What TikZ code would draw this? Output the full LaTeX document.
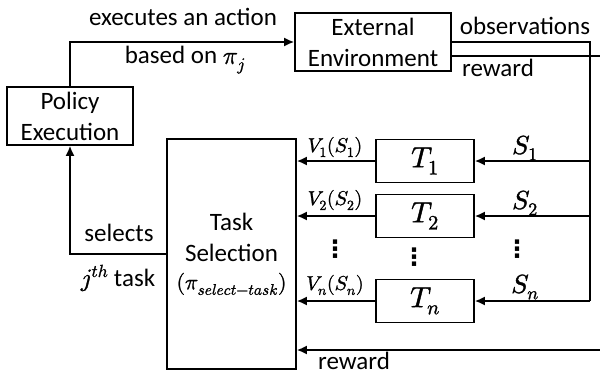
\documentclass[tikz,border=0pt]{standalone}
\usepackage{amsmath}
\usepackage{fontspec}
\usepackage{unicode-math}
\setmainfont{Carlito}
\newfontfamily\dotfont{DejaVu Sans}[BoldFont={DejaVu Sans Bold}]
\setmathfont{Latin Modern Math}[FakeBold=1.3]
\usetikzlibrary{arrows.meta}
\begin{document}
\begin{tikzpicture}[x=1pt,y=-1pt,
  line width=1.7pt,
  every node/.style={font=\fontsize{25}{31}\selectfont, inner sep=0pt},
  blk/.style={draw, line width=1.7pt, align=center},
  arr/.style={-{Latex[length=10pt,width=9pt]}},
  small/.style={font=\fontsize{20}{22}\selectfont},
  tmath/.style={font=\fontsize{29}{31}\selectfont},
  smath/.style={font=\fontsize{26}{31}\selectfont},
  dots/.style={font=\dotfont\bfseries\fontsize{24}{26}\selectfont}
]
\useasboundingbox (0,0) rectangle (600,375);
% boxes
\node[blk, minimum width=126pt, minimum height=58pt] (pol) at (70,116) {Policy\\Execution};
\node[blk, minimum width=156pt, minimum height=58pt] (env) at (373,42) {External\\Environment};
\node[blk, minimum width=129pt, minimum height=230pt] (sel) at (231.5,254) {Task\\Selection\\[-3pt]{\fontsize{22}{24}\selectfont$(\pi_{select-task})$}};
\node[blk, tmath, minimum width=98pt, minimum height=43pt] (t1) at (425,161) {$T_1$};
\node[blk, tmath, minimum width=98pt, minimum height=43pt] (t2) at (425,216) {$T_2$};
\node[blk, tmath, minimum width=98pt, minimum height=43pt] (tn) at (425,301) {$T_n$};
% coordinates
\coordinate (obsR) at (590,42);
\coordinate (rwA) at (451,56);
\coordinate (rwB) at (600,56);
\coordinate (rwC) at (600,350);
\coordinate (selR) at (sel.east |- rwC);
\coordinate (selL) at (sel.west);
\coordinate (b1) at (590,161);
\coordinate (b2) at (590,216);
\coordinate (bn) at (590,301);
% connectors
\draw[arr] (pol.north) |- (env.west);
\draw (env.east) -- (obsR) -- (bn);
\draw (rwA) -- (rwB);
\draw[arr] (rwC) -- (selR);
\draw[arr] (b1) -- (t1.east);
\draw[arr] (b2) -- (t2.east);
\draw[arr] (bn) -- (tn.east);
\draw[arr] (t1.west) -- (sel.east |- t1.west);
\draw[arr] (t2.west) -- (sel.east |- t2.west);
\draw[arr] (tn.west) -- (sel.east |- tn.west);
\draw[arr] (selL) -| (pol.south);
% labels
\node (l1) at (183,17) {executes an action};
\node (l2) at (185,60) {based on $\pi_j$};
\node (l3) at (525,26) {observations};
\node (l4) at (498,68) {reward};
\node (l5) at (354,361) {reward};
\node (l6) at (119,233) {selects};
\node (l7) at (118,278) {$j^{th}$ task};
\node[small] (v1) at (335,147) {$V_1(S_1)$};
\node[small] (v2) at (335,200) {$V_2(S_2)$};
\node[small] (vn) at (335,285) {$V_n(S_n)$};
\node[smath] (s1) at (525,148) {$S_1$};
\node[smath] (s2) at (525,203) {$S_2$};
\node[smath] (sn) at (525,287) {$S_n$};
\node[dots] (d1) at (335,249.5) {⋮};
\node[dots] (d2) at (414,257) {⋮};
\node[dots] (d3) at (517,249) {⋮};
\end{tikzpicture}
\end{document}
